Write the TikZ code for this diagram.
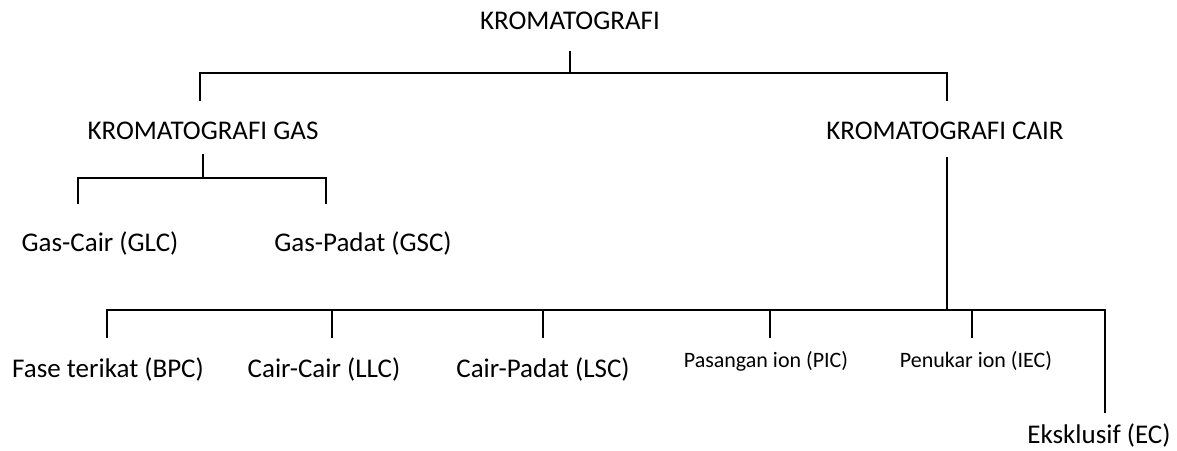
\documentclass[tikz,border=0pt]{standalone}
\usepackage{fontspec}
\setmainfont{Carlito}
\begin{document}
\begin{tikzpicture}[x=1pt,y=-1pt,
  lbl/.style={inner sep=0pt, anchor=base, font=\fontsize{27}{31}\selectfont},
  lblsmall/.style={lbl, font=\fontsize{22}{26}\selectfont},
  wire/.style={line width=1.6pt, black, line cap=rect}]
\useasboundingbox (0,0) rectangle (1177,450);

% labels
\node[lbl] (root) at (570,29) {KROMATOGRAFI};
\node[lbl] (gas)  at (203,139) {KROMATOGRAFI GAS};
\node[lbl] (cair) at (945,139) {KROMATOGRAFI CAIR};
\node[lbl] (glc)  at (100,251) {Gas-Cair (GLC)};
\node[lbl] (gsc)  at (363,251) {Gas-Padat (GSC)};
\node[lbl] (bpc)  at (108,377) {Fase terikat (BPC)};
\node[lbl] (llc)  at (324,377) {Cair-Cair (LLC)};
\node[lbl] (lsc)  at (543,377) {Cair-Padat (LSC)};
\node[lblsmall] (pic) at (766,367) {Pasangan ion (PIC)};
\node[lblsmall] (iec) at (976,367) {Penukar ion (IEC)};
\node[lbl] (ec)   at (1099,443) {Eksklusif (EC)};

% top level bus
\coordinate (rt) at (570,52);
\coordinate (rj) at (570,73);
\coordinate (rl) at (200,73);
\coordinate (rld) at (200,100);
\coordinate (rr) at (947,73);
\coordinate (rrd) at (947,100);
\draw[wire] (rt) -- (rj);
\draw[wire] (rld) -- (rl) -- (rr) -- (rrd);

% gas branch
\coordinate (gt) at (203,155);
\coordinate (gj) at (203,178);
\coordinate (gl) at (78,178);
\coordinate (gld) at (78,203);
\coordinate (gr) at (326,178);
\coordinate (grd) at (326,203);
\draw[wire] (gt) -- (gj);
\draw[wire] (gld) -- (gl) -- (gr) -- (grd);

% liquid branch
\coordinate (ct) at (947,158);
\coordinate (cj) at (947,310);
\coordinate (b1) at (107,310);
\coordinate (b6) at (1105,310);
\draw[wire] (ct) -- (cj);
\draw[wire] (b1) -- (b6);
\foreach \x/\n in {107/1,332/2,543/3,770/4,972/5}{
  \draw[wire] (\x,310) coordinate (d\n) -- (\x,337) coordinate (e\n);
}
\coordinate (e6) at (1105,412);
\draw[wire] (b6) -- (e6);
\end{tikzpicture}
\end{document}
